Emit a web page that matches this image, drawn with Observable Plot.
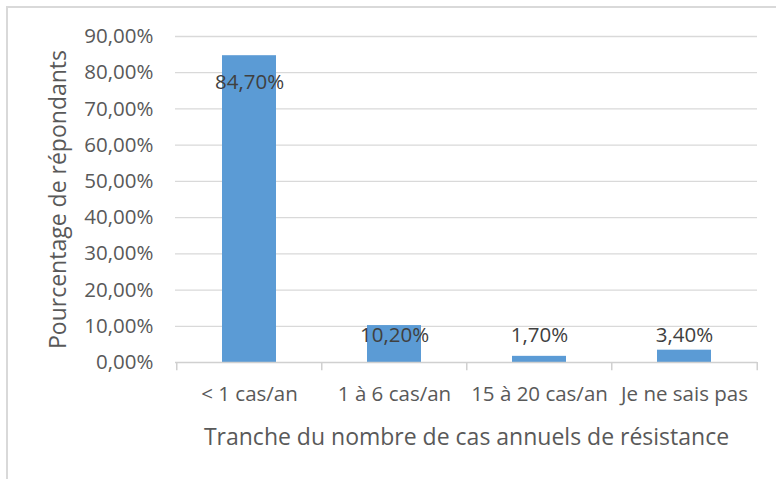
<!DOCTYPE html>
<html>
<head>
<meta charset="utf-8">
<script src="https://cdn.jsdelivr.net/npm/d3@7"></script>
<script src="https://cdn.jsdelivr.net/npm/@observablehq/plot@0.6"></script>
<style>
  html, body { margin: 0; padding: 0; background: #fff; overflow: hidden; }
  #wrap { position: relative; width: 776px; height: 479px; overflow: hidden; }
  #frame { position: absolute; left: 6px; top: 6px; width: 800px; height: 520px; border: 2px solid #d9d9d9; box-sizing: border-box; }
  #chart { position: absolute; left: 0; top: 0; }
</style>
</head>
<body>
<div id="wrap"><div id="frame"></div><div id="chart"></div></div>
<script>
const categories = ["< 1 cas/an", "1 à 6 cas/an", "15 à 20 cas/an", "Je ne sais pas"];
const values = [84.7, 10.2, 1.7, 3.4];
const yTicks = [0, 10, 20, 30, 40, 50, 60, 70, 80, 90];
const yTitle = "Pourcentage de répondants";
const xTitle = "Tranche du nombre de cas annuels de résistance";

const data = categories.map((c, i) => ({cat: c, value: values[i]}));
const fmt = v => v.toFixed(2).replace(".", ",") + "%";

const W = 776, H = 479, mL = 175, mR = 19, mT = 36, mB = 117;
const step = (W - mL - mR) / categories.length;
const font = "'Open Sans', sans-serif";

const chart = Plot.plot({
  width: W, height: H,
  marginLeft: mL, marginRight: mR, marginTop: mT, marginBottom: mB,
  style: {fontFamily: font, fontSize: "20px", background: "transparent", overflow: "visible"},
  x: {domain: categories, paddingInner: 0.63, paddingOuter: 0.315},
  y: {domain: [0, 90]},
  marks: [
    Plot.ruleY(yTicks.filter(t => t > 0), {stroke: "#d9d9d9", strokeWidth: 1.3}),
    Plot.barY(data, {x: "cat", y: "value", fill: "#5b9bd5"}),
    Plot.ruleY([0], {stroke: "#d0d0d0", strokeWidth: 1.5}),
    Plot.ruleX(categories, {x: d => d, dx: -step / 2, y1: 0, y2: -2.3, stroke: "#d0d0d0", strokeWidth: 1.5}),
    Plot.ruleX(categories.slice(-1), {x: d => d, dx: step / 2, y1: 0, y2: -2.3, stroke: "#d0d0d0", strokeWidth: 1.5}),
    Plot.axisY({ticks: yTicks, tickFormat: fmt, tickSize: 0, tickPadding: 22, label: null, fill: "#595959", fontSize: 20.5}),
    Plot.axisX({tickSize: 0, tickPadding: 24, label: null, fill: "#595959", fontSize: 20.5}),
    Plot.text(data, {x: "cat", y: d => d.value > 50 ? d.value - 7.5 : 7.5, text: d => fmt(d.value), fill: "#404040", fontSize: 20.5, lineAnchor: "middle"}),
    Plot.text([xTitle], {frameAnchor: "bottom", dy: 75, fill: "#595959", fontSize: 23, lineAnchor: "middle"}),
    Plot.text([yTitle], {frameAnchor: "left", textAnchor: "middle", dx: -117, rotate: -90, fill: "#595959", fontSize: 23, lineAnchor: "middle"})
  ]
});
document.getElementById("chart").appendChild(chart);
</script>
</body>
</html>
